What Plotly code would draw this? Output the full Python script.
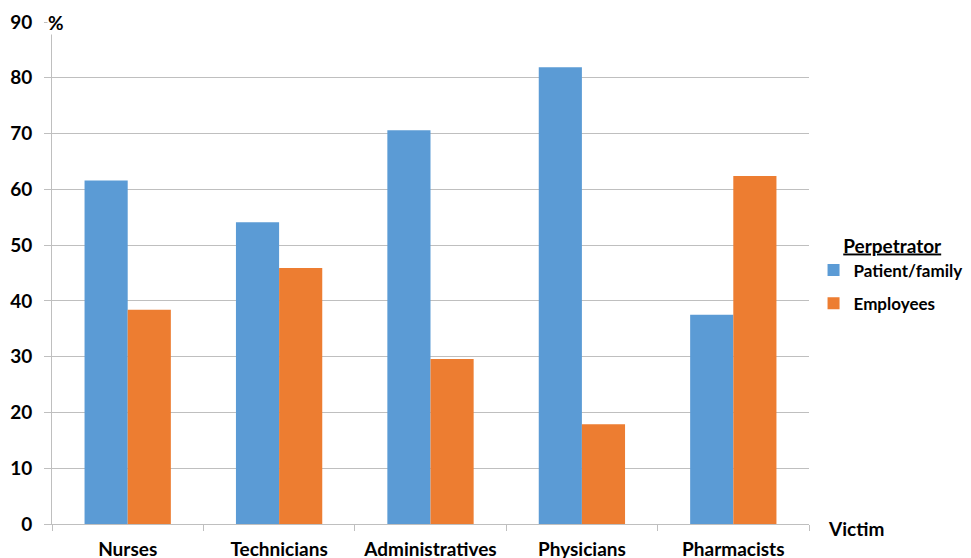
import plotly.graph_objects as go

categories = ["Nurses", "Technicians", "Administratives", "Physicians", "Pharmacists"]
patient_family = [61.6, 54.1, 70.6, 81.9, 37.5]
employees = [38.4, 45.9, 29.6, 17.9, 62.4]
series_names = ["Patient/family", "Employees"]
y_ticks = [0, 10, 20, 30, 40, 50, 60, 70, 80, 90]

FONT = "Lato"
BLUE = "#5B9BD5"
ORANGE = "#ED7D31"
GRID = "#BFBFBF"
FS = 19

fig = go.Figure()
fig.add_trace(go.Bar(x=categories, y=patient_family, name=series_names[0],
                     marker=dict(color=BLUE, line=dict(width=0)), legendgroup="a"))
fig.add_trace(go.Bar(x=categories, y=employees, name=series_names[1],
                     marker=dict(color=ORANGE, line=dict(width=0)), legendgroup="b"))

fig.update_layout(
    width=971, height=558,
    margin=dict(l=44, r=170, t=14, b=42, autoexpand=False),
    paper_bgcolor="white", plot_bgcolor="white",
    barmode="group", bargap=0.43, bargroupgap=0,
    font=dict(family=FONT, size=FS, color="black"),
    showlegend=True,
    legend=dict(
        x=1.006, xanchor="left", y=0.59, yanchor="top",
        title=dict(text="\u00a0\u00a0\u00a0\u00a0\u00a0\u00a0<b><span style='text-decoration:underline'>Perpetrator</span></b>",
                   font=dict(family=FONT, size=FS, color="black")),
        font=dict(family=FONT, size=17, color="black", weight="bold"),
        tracegroupgap=8, itemwidth=30,
    ),
    xaxis=dict(
        type="category", showline=True, linecolor=GRID, linewidth=1,
        ticks="outside", tickson="boundaries", ticklen=6, tickcolor=GRID,
        tickfont=dict(family=FONT, size=FS, color="black", weight="bold"),
        showgrid=False, ticklabelstandoff=8, automargin=False,
    ),
    yaxis=dict(
        range=[0, 90], tickvals=y_ticks, showline=True, linecolor=GRID, linewidth=1,
        ticks="outside", ticklen=7, tickcolor=GRID,
        showgrid=True, gridcolor=GRID, gridwidth=1,
        tickfont=dict(family=FONT, size=FS, color="black", weight="bold"),
        ticklabelstandoff=8, zeroline=False, automargin=False,
    ),
)

fig.add_annotation(text="<b>%</b>", xref="paper", yref="paper", x=-0.007, y=1.0,
                   xanchor="left", yanchor="middle", showarrow=False, bgcolor="white",
                   borderpad=0, font=dict(family=FONT, size=FS, color="black"))
fig.add_annotation(text="<b>Victim</b>", xref="paper", yref="y", x=1.0225, y=0,
                   xanchor="left", yanchor="middle", yshift=-4, showarrow=False,
                   font=dict(family=FONT, size=FS, color="black"))

fig.write_html("out.html")
